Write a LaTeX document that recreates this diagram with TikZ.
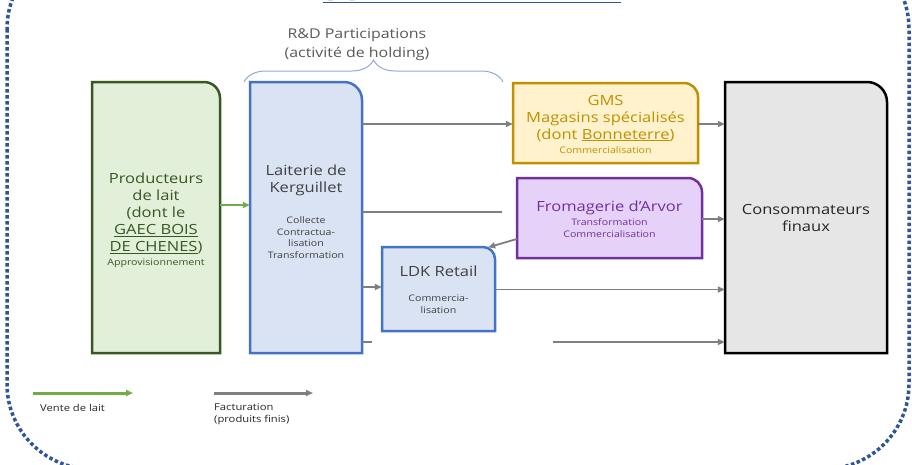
\documentclass[tikz,border=0pt]{standalone}
\usepackage{fontspec}
\setmainfont{Open Sans}[FakeStretch=1.18]
\usetikzlibrary{arrows.meta, decorations.pathreplacing}

\definecolor{cadreblue}{HTML}{2F5597}
\definecolor{prodgreen}{HTML}{385723}
\definecolor{prodfill}{HTML}{E2F0D9}
\definecolor{laitblue}{HTML}{4472C4}
\definecolor{laitfill}{HTML}{DAE3F3}
\definecolor{gmsgold}{HTML}{BF9000}
\definecolor{gmsfill}{HTML}{FFF2CC}
\definecolor{fromviolet}{HTML}{7030A0}
\definecolor{fromfill}{HTML}{E6D2F8}
\definecolor{consfill}{HTML}{E7E6E6}
\definecolor{factgray}{HTML}{7F7F7F}
\definecolor{ventegreen}{HTML}{70AD47}
\definecolor{bracecol}{HTML}{8FAADC}
\definecolor{textgray}{HTML}{404040}

\newcommand\bigf{\fontsize{14}{17}\selectfont}
\newcommand\smf{\fontsize{9}{11.5}\selectfont}
% box with one round corner (top right)
\newcommand\tabbox[7]{%
  \filldraw[fill=#6, draw=#7, line width=2.5pt] (#1,#4) -- (#1,#2) -- ({#3-#5},#2)
    arc[start angle=90, end angle=0, radius=#5pt] -- (#3,#4) -- cycle;}

\begin{document}
\begin{tikzpicture}[x=1pt, y=-1pt,
  cadre/.style={draw=cadreblue, line width=3.5pt, dash pattern=on 3.5pt off 2.5pt, rounded corners=85pt},
  boxtext/.style={align=center, font=\bigf, inner sep=0pt},
  fact/.style={draw=factgray, line width=1.8pt, -{Triangle[length=7pt,width=6pt]}},
  factline/.style={draw=factgray, line width=1.8pt},
  vente/.style={draw=ventegreen, line width=2pt, -{Triangle[length=7pt,width=6pt]}},
  legend/.style={align=left, font=\fontsize{9.5}{12}\selectfont, text=black!85, inner sep=0pt}]
\useasboundingbox (0,0) rectangle (912,464);
\draw[cadre] (7,-56) rectangle (909,469);

% titre
\node[anchor=base, font=\fontsize{26.5}{30}\selectfont\bfseries, text=cadreblue] (titre) at (472,0.5) {\underline{SCHEMA DE FILIERE}};
\node[align=center, font=\fontsize{13.5}{19}\selectfont, text=black!65] (holding) at (357,45) {R\&D Participations\\(activité de holding)};
\draw[bracecol, line width=1pt, decorate, decoration={brace, amplitude=22pt}] (244,82) -- (503,82);

% boites
\tabbox{92}{82}{220}{353}{16}{prodfill}{prodgreen}
\tabbox{250}{82}{362}{353}{18}{laitfill}{laitblue}
\tabbox{513}{83}{698}{163}{14}{gmsfill}{gmsgold}
\tabbox{517}{178}{702}{258}{14}{fromfill}{fromviolet}
\tabbox{382}{247}{495}{331}{12}{laitfill}{laitblue}
\tabbox{725}{82}{887}{353}{20}{consfill}{black}

\node[boxtext, text=prodgreen, minimum width=128pt, minimum height=271pt] (prod) at (156,220) {Producteurs\\de lait\\(dont le\\\underline{GAEC BOIS}\\\underline{DE CHENES})\\[-3pt]\smf Approvisionnement};
\node[boxtext, text=textgray, minimum width=112pt, minimum height=271pt] (lait) at (306,211.5) {Laiterie de\\Kerguillet\\[14pt]\smf Collecte\\[-5.5pt]\smf Contractua-\\[-5.5pt]\smf lisation\\[-5.5pt]\smf Transformation};
\node[boxtext, text=gmsgold, minimum width=185pt, minimum height=80pt] (gms) at (605.5,124) {GMS\\Magasins spécialisés\\(dont \underline{Bonneterre})\\[-3pt]\smf Commercialisation};
\node[boxtext, text=fromviolet, minimum width=185pt, minimum height=80pt] (fromag) at (609.5,219) {Fromagerie d’Arvor\\[-3pt]\smf Transformation\\[-5.5pt]\smf Commercialisation};
\node[boxtext, text=textgray, minimum width=113pt, minimum height=84pt] (ldk) at (438.5,289.5) {LDK Retail\\[8pt]\smf Commercia-\\[-5.5pt]\smf lisation};
\node[boxtext, text=black!85, minimum width=162pt, minimum height=271pt] (cons) at (806,218) {Consommateurs\\finaux};

% flux
\coordinate (fromEnd) at (502,212);
\coordinate (stubA) at (372,342);
\coordinate (stubB) at (553,342);
\draw[vente] (prod.east |- 0,205) -- (lait.west |- 0,205);
\draw[fact] (lait.east |- gms.west) -- (gms.west);
\draw[fact] (gms.east) -- (cons.west |- gms.east);
\draw[factline] (lait.east |- fromEnd) -- (fromEnd);
\draw[fact] (fromag.east) -- (cons.west |- fromag.east);
\draw[fact] ([yshift=-20pt]fromag.west) -- ([xshift=-7pt]ldk.north east);
\draw[fact] (lait.east |- 0,287) -- (ldk.west |- 0,287);
\draw[fact] (ldk.east) -- (cons.west |- ldk.east);
\draw[factline] (lait.east |- stubA) -- (stubA);
\draw[fact] (stubB) -- (cons.west |- stubB);

% legende
\coordinate (venteA) at (33,393);
\coordinate (venteB) at (133,393);
\coordinate (factA) at (214,393);
\coordinate (factB) at (313,393);
\draw[vente, line width=3pt] (venteA) -- (venteB);
\draw[fact, line width=3pt] (factA) -- (factB);
\node[legend, anchor=north west] (venteL) at (40,404) {Vente de lait};
\node[legend, anchor=north west] (factL) at (214,403) {Facturation\\(produits finis)};
\end{tikzpicture}
\end{document}
